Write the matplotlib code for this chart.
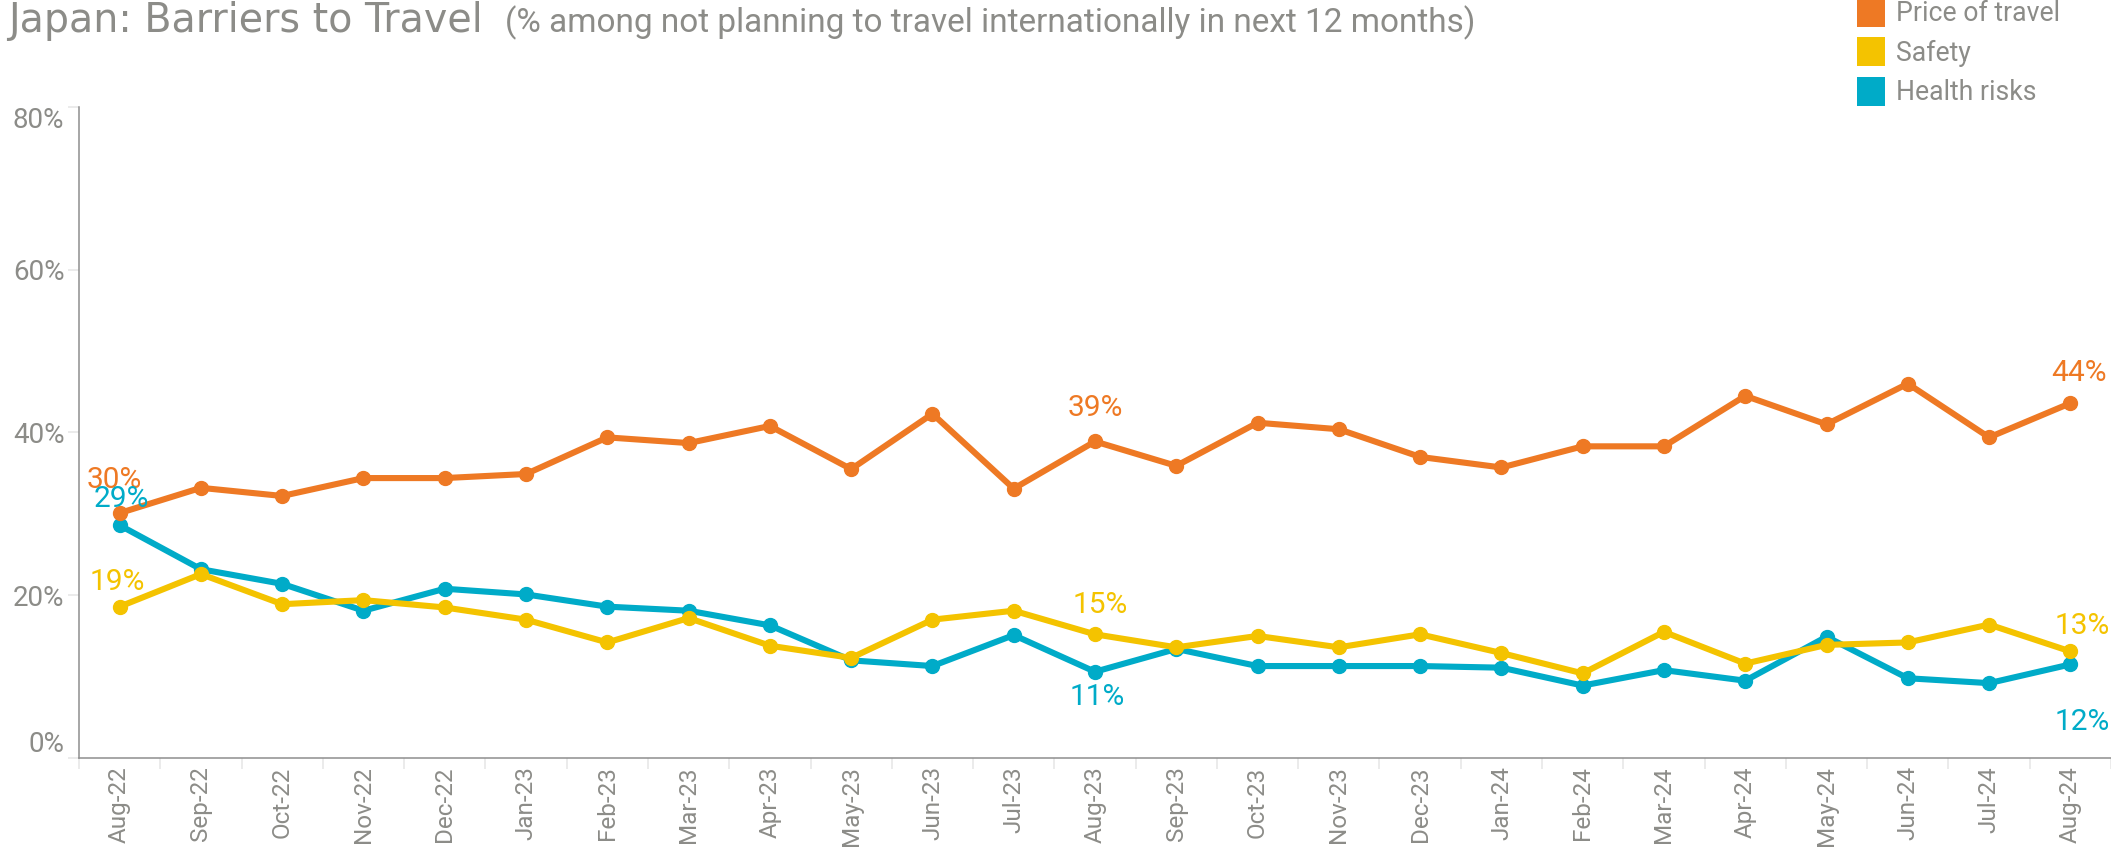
import matplotlib
matplotlib.use("Agg")
import matplotlib.pyplot as plt
from matplotlib.patches import Patch
from matplotlib.ticker import FixedLocator
import numpy as np

# ---------------- data ----------------
months = ["Aug-22", "Sep-22", "Oct-22", "Nov-22", "Dec-22", "Jan-23", "Feb-23",
          "Mar-23", "Apr-23", "May-23", "Jun-23", "Jul-23", "Aug-23", "Sep-23",
          "Oct-23", "Nov-23", "Dec-23", "Jan-24", "Feb-24", "Mar-24", "Apr-24",
          "May-24", "Jun-24", "Jul-24", "Aug-24"]
price_of_travel = [30.1, 33.2, 32.2, 34.4, 34.4, 34.9, 39.4, 38.7, 40.8, 35.5,
                   42.3, 33.1, 38.9, 35.9, 41.2, 40.4, 37.0, 35.7, 38.3, 38.3,
                   44.5, 41.0, 46.0, 39.4, 43.6]
safety = [18.6, 22.6, 18.9, 19.4, 18.5, 17.0, 14.2, 17.2, 13.8, 12.3,
          17.0, 18.1, 15.2, 13.6, 15.0, 13.6, 15.2, 12.9, 10.4, 15.5,
          11.6, 13.9, 14.2, 16.4, 13.1]
health_risks = [28.6, 23.2, 21.4, 18.1, 20.8, 20.1, 18.6, 18.1, 16.3, 12.0,
                11.3, 15.1, 10.6, 13.4, 11.3, 11.3, 11.3, 11.1, 8.9, 10.8,
                9.5, 14.9, 9.8, 9.2, 11.5]
series_names = ["Price of travel", "Safety", "Health risks"]
y_ticks = [0, 20, 40, 60, 80]
labelled_months = ["Aug-22", "Aug-23", "Aug-24"]

# ---------------- style ----------------
ORANGE = "#EE7924"
YELLOW = "#F4C300"
TEAL = "#00ABC8"
GRAY = "#8C8C88"
AXIS = "#8E8E8E"
LIGHT = "#E8E8E8"
FONT = ["Roboto", "DejaVu Sans"]
plt.rcParams["font.family"] = FONT

W, H = 2111, 852
fig = plt.figure(figsize=(W / 100, H / 100), dpi=100)
left, bottom, top = 79, 758, 107
ax = fig.add_axes([left / W, 1 - bottom / H, 1 - left / W, (bottom - top) / H])

x = np.arange(len(months))
colors = [ORANGE, YELLOW, TEAL]
values = [price_of_travel, safety, health_risks]
zorders = [5, 4, 3]
for vals, col, z in zip(values, colors, zorders):
    ax.plot(x, vals, color=col, lw=4.4, marker="o", ms=10, zorder=z,
            solid_capstyle="round", solid_joinstyle="round")

ax.set_xlim(-0.5, len(months) - 0.5)
ax.set_ylim(0, 80)
ax.set_yticks(y_ticks)
ax.set_yticklabels([f"{v}%" for v in y_ticks])
ax.set_xticks(x)
ax.set_xticklabels(months, rotation=90, va="top", ha="center")
ax.xaxis.set_minor_locator(FixedLocator(np.arange(len(months) + 1) - 0.5))

for s in ["top", "right"]:
    ax.spines[s].set_visible(False)
for s in ["left", "bottom"]:
    ax.spines[s].set_color(AXIS)
    ax.spines[s].set_linewidth(1.1)

ax.tick_params(axis="x", which="major", length=0, pad=6, labelsize=17.5,
               labelcolor=GRAY)
ax.tick_params(axis="x", which="minor", length=8, width=1.2, color=LIGHT)
ax.tick_params(axis="y", length=8, width=1.2, color=LIGHT, pad=2.5,
               labelsize=20, labelcolor=GRAY)
ylabs = ax.get_yticklabels()
ylabs[-1].set_va("top")
ylabs[0].set_va("bottom")

# ---------------- data labels ----------------
offsets = {
    ("Price of travel", "Aug-22"): (-5, 33),
    ("Health risks", "Aug-22"): (2, 26),
    ("Safety", "Aug-22"): (-2, 25),
    ("Price of travel", "Aug-23"): (0, 33),
    ("Safety", "Aug-23"): (5, 29),
    ("Health risks", "Aug-23"): (2, -25),
    ("Price of travel", "Aug-24"): (9, 30),
    ("Safety", "Aug-24"): (12, 25),
    ("Health risks", "Aug-24"): (12, -58),
}
for name, vals, col in zip(series_names, values, colors):
    for m in labelled_months:
        i = months.index(m)
        dx, dy = offsets[(name, m)]
        ax.annotate(f"{round(vals[i])}%", (x[i], vals[i]),
                    xytext=(dx, dy), textcoords="offset pixels",
                    ha="center", va="center", color=col, fontsize=21.5,
                    zorder=6, annotation_clip=False)

# ---------------- title ----------------
fig.text(8 / W, 1 - 32 / H, "Japan: Barriers to Travel", color=GRAY,
         fontsize=28.5, family=["DejaVu Sans"], ha="left", va="baseline")
fig.text(505 / W, 1 - 32 / H,
         "(% among not planning to travel internationally in next 12 months)",
         color=GRAY, fontsize=24, ha="left", va="baseline")

# ---------------- legend ----------------
handles = [Patch(facecolor=c, edgecolor="none") for c in colors]
fig.legend(handles, series_names, loc="upper left",
           bbox_to_anchor=(1857 / W, 1.003), frameon=False, fontsize=19.2,
           handlelength=1.05, handleheight=1.3, handletextpad=0.4,
           labelspacing=0.38, borderpad=0, borderaxespad=0, labelcolor=GRAY)

fig.savefig("out.png", dpi=100)
